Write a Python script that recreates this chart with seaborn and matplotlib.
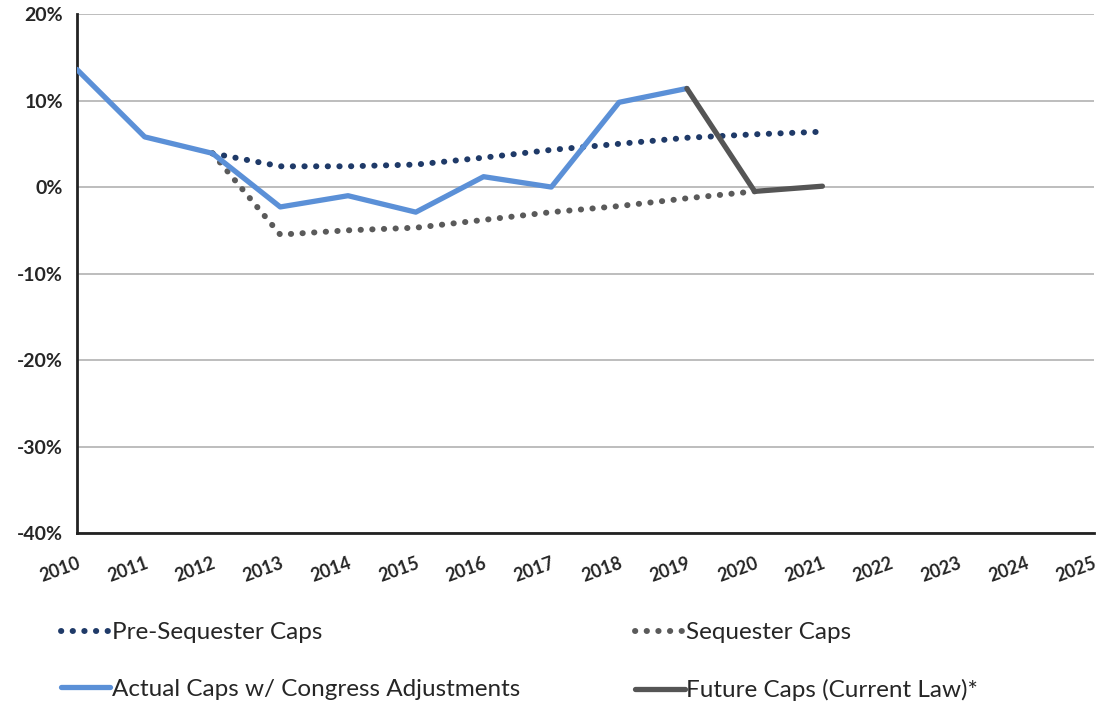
import pandas as pd
import matplotlib.pyplot as plt
import matplotlib.ticker as mticker
import matplotlib.transforms as mtrans
import seaborn as sns

# Data (% change)
years_actual = [2010, 2011, 2012, 2013, 2014, 2015, 2016, 2017, 2018, 2019]
actual_caps = [13.6, 5.8, 3.9, -2.3, -1.0, -2.9, 1.2, 0.0, 9.8, 11.4]

years_future = [2019, 2020, 2021]
future_caps = [11.4, -0.5, 0.1]

years_pre = [2012, 2013, 2014, 2015, 2016, 2017, 2018, 2019, 2020, 2021]
pre_seq_caps = [3.9, 2.4, 2.4, 2.6, 3.4, 4.3, 5.0, 5.7, 6.1, 6.4]

years_seq = [2012, 2013, 2014, 2015, 2016, 2017, 2018, 2019, 2020]
seq_caps = [3.9, -5.5, -5.0, -4.7, -3.8, -2.9, -2.2, -1.3, -0.5]

x_ticks = list(range(2010, 2026))
y_ticks = [-40, -30, -20, -10, 0, 10, 20]

sns.set_style("white")
plt.rcParams['font.family'] = ['Lato', 'DejaVu Sans']

fig = plt.figure(figsize=(10.99, 7.05), dpi=100)
ax = fig.add_axes([0.070, 0.244, 0.925, 0.736])

df_pre = pd.DataFrame({"Year": years_pre, "Value": pre_seq_caps})
df_seq = pd.DataFrame({"Year": years_seq, "Value": seq_caps})
df_act = pd.DataFrame({"Year": years_actual, "Value": actual_caps})
df_fut = pd.DataFrame({"Year": years_future, "Value": future_caps})

dot = (0.05, 1.9)
sns.lineplot(data=df_pre, x="Year", y="Value", ax=ax, color="#1F3A68", lw=4.3,
             label="Pre-Sequester Caps", zorder=3)
ax.lines[-1].set_dashes(dot)
ax.lines[-1].set_dash_capstyle("round")
sns.lineplot(data=df_act, x="Year", y="Value", ax=ax, color="#5B90D7", lw=3.8,
             label="Actual Caps w/ Congress Adjustments", zorder=4)
sns.lineplot(data=df_seq, x="Year", y="Value", ax=ax, color="#5A5A5A", lw=4.3,
             label="Sequester Caps", zorder=3)
ax.lines[-1].set_dashes(dot)
ax.lines[-1].set_dash_capstyle("round")
sns.lineplot(data=df_fut, x="Year", y="Value", ax=ax, color="#555555", lw=3.8,
             label="Future Caps (Current Law)*", zorder=4)

ax.set_xlim(2010, 2025)
ax.set_ylim(-40, 20)
ax.set_xticks(x_ticks)
ax.set_yticks(y_ticks)
ax.yaxis.set_major_formatter(mticker.FuncFormatter(lambda v, p: f"{v:.0f}%"))
ax.set_xlabel("")
ax.set_ylabel("")

ax.grid(axis="y", color="#B8B8B8", lw=1.3)
ax.set_axisbelow(True)
for s in ["top", "right"]:
    ax.spines[s].set_visible(False)
for s in ["left", "bottom"]:
    ax.spines[s].set_color("#222222")
    ax.spines[s].set_linewidth(2)
ax.tick_params(axis="y", direction="out", length=6, width=2, color="#222222", pad=4)
ax.tick_params(axis="x", direction="out", length=5, width=1.5, color="#222222", pad=6)

# tick labels styled after tick_params so the offset is not reset
ax.set_xticklabels([str(y) for y in x_ticks], rotation=20, ha="center",
                   fontsize=13, fontweight="bold")
shift = mtrans.ScaledTranslation(-17 / 100, -6 / 100, fig.dpi_scale_trans)
for lab in ax.get_xticklabels():
    lab.set_transform(lab.get_transform() + shift)
for lab in ax.get_yticklabels():
    lab.set_fontsize(14)
    lab.set_fontweight("bold")

handles, labels = ax.get_legend_handles_labels()
leg = ax.legend(handles, labels, loc="upper left", bbox_to_anchor=(-0.016, -0.172),
                ncol=2, frameon=False, fontsize=17.5, handlelength=2.05,
                handletextpad=0.05, columnspacing=4.75, labelspacing=1.47,
                borderaxespad=0, borderpad=0)
for h in leg.get_lines():
    h.set_dash_capstyle("round")

fig.savefig("out.png", dpi=100)
